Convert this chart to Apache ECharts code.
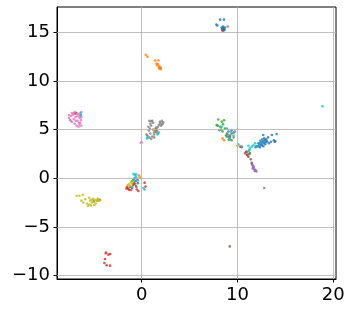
<!DOCTYPE html>
<html><head><meta charset="utf-8">
<script src="https://cdn.jsdelivr.net/npm/echarts@6/dist/echarts.min.js"></script>
<style>html,body{margin:0;padding:0;background:#fff}#c{width:353px;height:312px}</style>
</head><body><div id="c"></div>
<script>
var xTicks = [0, 10, 20];
var yTicks = [-10, -5, 0, 5, 10, 15];

var blue = [[8.2,16.3],[8.6,16.3],[7.8,15.8],[7.9,15.7],[8.4,15.3],[8.5,15.4],[8.6,15.2],[8.7,15.5],[8.5,15.6],[8.45,15.45],[8.55,15.35],[8.65,15.3],[8.35,15.5],[8.5,15.25],
  [1.45,4.75],[1.55,5.1],
  [-0.65,-0.3],[-0.9,-0.2],[-0.4,-0.5],[-0.75,0.0],
  [9.06,4.8],[9.4,4.95],[9.6,4.7],[9.2,4.25],
  [12.2,3.3],[12.3,3.5],[12.4,3.6],[12.5,3.4],[12.5,3.7],[12.6,3.55],[12.7,3.8],[12.7,3.3],[12.8,3.65],[12.9,3.9],[12.9,3.5],[13.0,3.7],[12.6,4.0],[12.4,3.85],[12.8,4.1],[13.1,3.8],[12.35,3.2],[12.0,3.3],[11.9,3.2],[12.7,4.45],[13.6,4.45],[14.1,4.55],[13.8,3.9],[13.9,3.75],[13.2,4.2],[13.5,3.75],[13.3,3.6],[13.95,3.8],[12.2,3.6],[13.0,4.0]];
var orange = [[0.42,12.7],[0.6,12.5],[1.4,12.1],[1.75,12.1],[1.55,11.8],[1.6,11.6],[1.85,11.5],[1.9,11.3],[2.0,11.35],[1.8,11.4],[1.7,11.7],[2.0,11.2],[1.85,11.25],
  [-6.8,6.7],[1.4,5.0],[1.5,4.9],[1.6,4.7],[1.3,4.7],
  [-0.3,0.3],[-0.2,0.1],[-1.55,-0.85],[-0.7,-0.6],
  [-4.5,-2.15],[-4.35,-2.25],[-4.6,-2.3],[-3.73,-7.6],
  [8.6,3.9],[8.45,4.1],[10.0,3.35]];
var green = [[8.0,6.04],[8.36,5.8],[7.84,5.46],[8.2,5.3],[8.5,5.55],[8.7,5.1],[8.45,4.8],[8.9,4.6],[9.06,4.27],[9.23,4.4],[9.4,3.9],[8.6,5.97],[8.1,4.95],[7.95,5.4],[8.3,5.0],[8.8,4.4],[9.1,3.95],
  [-1.0,-0.3],[-0.8,-0.6],[11.3,2.6]];
var red = [[-6.9,6.7],[-7.0,6.65],
  [-1.6,-1.05],[-1.5,-0.95],[-1.4,-1.1],[-1.2,-0.9],[-1.3,-1.2],[-0.9,-0.7],[-0.5,-1.15],[-0.35,-1.3],[0.3,-0.45],[0.4,-0.85],[-1.0,-1.0],[-0.8,-0.5],
  [-5.0,-2.35],
  [-3.48,-7.85],[-3.31,-7.78],[-3.83,-8.3],[-3.9,-8.7],[-3.66,-8.94],[-3.31,-8.98],[-3.75,-7.7],
  [8.45,15.15],[10.9,2.73],[11.05,2.4],[10.3,3.25]];
var purple = [[9.0,15.6],[9.0,4.5],[-0.55,-0.9],
  [11.5,1.5],[11.6,1.3],[11.65,1.1],[11.75,0.95],[11.85,0.8],[12.0,0.7],[11.7,1.2],[11.55,1.4],[11.9,0.85],[11.6,1.0],[11.8,0.75],
  [12.8,-1.0]];
var brown = [[-1.1,-1.2],[-0.6,-0.8],[9.4,4.6],
  [11.0,2.73],[11.25,2.5],[11.15,2.2],[11.4,1.95],[11.5,1.6],[11.0,2.4],[10.8,2.56],[10.45,3.2],
  [9.2,-7.0]];
var pink = [[-7.6,6.2],[-7.5,6.0],[-7.4,6.4],[-7.3,5.8],[-7.2,6.5],[-7.1,6.1],[-7.0,5.6],[-7.3,6.7],[-7.0,6.8],[-6.9,6.3],[-6.8,5.4],[-6.7,5.9],[-6.6,6.6],[-6.5,5.5],[-6.5,6.2],[-6.4,5.7],[-6.4,6.5],[-6.35,6.0],[-6.3,5.4],[-6.3,6.8],[-6.6,5.3],[-6.8,6.6],[-7.6,6.5],[-7.4,5.9],[-6.9,5.9],[-6.45,6.35],[-7.1,6.7],[-6.7,6.4],[-6.55,5.7],[-6.3,6.3],
  [-0.1,3.65],[0.0,3.7],[-0.5,-0.05]];
var gray = [[0.8,5.9],[1.0,5.85],[0.9,5.6],[1.2,5.7],[0.7,5.3],[0.85,5.1],[1.0,5.4],[0.75,4.9],[0.9,4.6],[0.6,4.4],[0.8,4.2],[1.0,4.05],[1.1,4.3],[1.3,4.5],[1.4,4.8],[1.2,5.0],[1.9,5.8],[2.1,5.9],[2.2,5.6],[1.8,5.5],[2.0,5.4],[2.25,5.75],[1.7,5.3],[1.6,4.9],[1.5,5.2],[2.1,5.5],[1.3,4.2],[0.5,4.5],[1.1,5.9],[1.95,5.65],
  [-0.4,-0.2],
  [8.9,4.27],[9.6,4.2],[9.23,4.0],[9.75,4.8]];
var olive = [[-6.8,-1.8],[-6.5,-1.8],[-6.15,-1.7],[-5.9,-2.15],[-6.1,-2.5],[-5.7,-2.6],[-5.5,-2.0],[-5.4,-2.3],[-5.3,-2.8],[-5.2,-2.5],[-5.1,-2.1],[-5.0,-2.4],[-4.9,-2.2],[-4.8,-2.6],[-4.7,-2.3],[-4.6,-2.1],[-4.5,-2.3],[-5.25,-2.2],[-5.45,-2.7],[-4.95,-2.75],[-5.6,-2.85],[-4.4,-2.2],[-6.3,-2.3],
  [-1.45,-0.7],[-1.3,-0.6],[-1.1,-0.4],[-0.9,-0.3],[-1.2,-0.8],[-1.0,-0.55]];
var cyan = [[-6.4,6.7],[-6.35,6.5],
  [0.55,4.1],[1.7,4.6],[1.8,4.7],[1.65,4.5],[0.6,4.2],
  [-0.85,0.45],[-0.7,0.3],[-0.6,0.1],[-0.8,-0.1],[-0.5,-0.2],[0.2,-1.0],[0.3,-1.15],[-1.0,-0.9],[-0.6,0.4],
  [8.9,5.1],[8.36,5.3],[9.3,4.8],[9.6,4.4],[9.16,4.1],
  [10.1,3.5],[10.45,3.25],[11.15,3.35],[11.3,3.07],[11.5,3.25],[11.67,3.4],[11.85,3.6],[12.0,3.25],[11.25,2.9],[12.4,3.65],[11.2,2.8],
  [18.9,7.4]];

var seriesDefs = [
  ['blue', blue, '#1f77b4'], ['orange', orange, '#ff7f0e'], ['green', green, '#2ca02c'],
  ['red', red, '#d62728'], ['purple', purple, '#9467bd'], ['brown', brown, '#8c564b'],
  ['pink', pink, '#e377c2'], ['gray', gray, '#7f7f7f'], ['olive', olive, '#bcbd22'],
  ['cyan', cyan, '#17becf']
];

function fmt(v) { return v < 0 ? '\u2212' + Math.abs(v) : String(v); }

var series = seriesDefs.map(function (d) {
  return { name: d[0], type: 'scatter', data: d[1], symbol: 'circle', symbolSize: 2.6,
    itemStyle: { color: d[2] }, silent: true, z: 2 };
});
var gridLines = xTicks.map(function (v) { return { xAxis: v }; })
  .concat(yTicks.map(function (v) { return { yAxis: v }; }));
series.push({ type: 'scatter', data: [], silent: true, z: 3,
  markLine: { silent: true, symbol: ['none', 'none'], label: { show: false },
    lineStyle: { color: '#b0b0b0', width: 0.8, type: 'solid' }, data: gridLines, animation: false } });

var chart = echarts.init(document.getElementById('c'), null, { renderer: 'canvas' });
chart.setOption({
  animation: false,
  backgroundColor: '#fff',
  grid: { left: 57, right: 17, top: 7, bottom: 33, show: true, borderColor: '#000', borderWidth: 1, backgroundColor: 'transparent' },
  xAxis: { type: 'value', min: -8.85, max: 20.3,
    axisLine: { show: true, onZero: false, lineStyle: { color: '#000', width: 1 } },
    axisTick: { show: true, length: 3.5, customValues: xTicks, lineStyle: { color: '#000' } },
    axisLabel: { customValues: xTicks, formatter: fmt, color: '#000', fontSize: 18, fontFamily: 'DejaVu Sans', margin: 7 },
    splitLine: { show: false } },
  yAxis: { type: 'value', min: -10.35, max: 17.6,
    axisLine: { show: true, onZero: false, lineStyle: { color: '#000', width: 1 } },
    axisTick: { show: true, length: 3.5, customValues: yTicks, lineStyle: { color: '#000' } },
    axisLabel: { customValues: yTicks, formatter: fmt, color: '#000', fontSize: 18, fontFamily: 'DejaVu Sans', margin: 7 },
    splitLine: { show: false } },
  series: series
});
</script></body></html>
